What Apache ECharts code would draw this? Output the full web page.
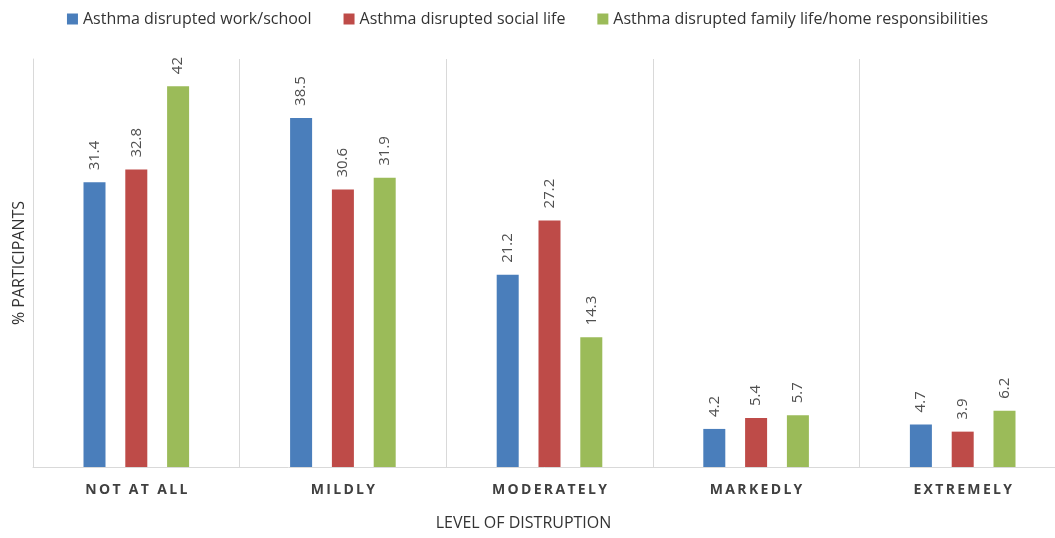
<!DOCTYPE html>
<html>
<head>
<meta charset="utf-8">
<script src="https://cdn.jsdelivr.net/npm/echarts@6/dist/echarts.min.js"></script>
<style>
  html, body { margin: 0; padding: 0; background: #fff; }
  #chart { width: 1055px; height: 538px; }
</style>
</head>
<body>
<div id="chart"></div>
<script>
  // level of disruption
  var categories = ['NOT AT ALL', 'MILDLY', 'MODERATELY', 'MARKEDLY', 'EXTREMELY']
  var seriesNames = [
    'Asthma disrupted work/school',
    'Asthma disrupted social life',
    'Asthma disrupted family life/home responsibilities'
  ]
  var workSchool = [31.4, 38.5, 21.2, 4.2, 4.7]
  var socialLife = [32.8, 30.6, 27.2, 5.4, 3.9]
  var familyLife = [42, 31.9, 14.3, 5.7, 6.2]
  var colors = ['#4A7EBB', '#BE4B48', '#9BBB59']

  var chart = echarts.init(document.getElementById('chart'))
  var font = "'Open Sans', 'Noto Sans', sans-serif"

  var seriesData = [workSchool, socialLife, familyLife]
  var series = []
  for (var i = 0; i < seriesData.length; i++) {
    series.push({
      name: seriesNames[i],
      type: 'bar',
      barWidth: 22,
      barGap: '90%',
      itemStyle: { color: colors[i] },
      label: {
        show: true,
        position: 'top',
        rotate: 90,
        align: 'left',
        verticalAlign: 'middle',
        distance: 12,
        color: '#505050',
        fontFamily: font,
        fontSize: 15
      },
      data: seriesData[i]
    })
  }

  chart.setOption({
    animation: false,
    textStyle: { fontFamily: font },
    legend: {
      top: 6,
      left: 'center',
      icon: 'rect',
      itemWidth: 11,
      itemHeight: 11,
      itemGap: 32,
      textStyle: { fontSize: 16, color: '#333', fontFamily: font },
      data: seriesNames
    },
    grid: {
      left: 33,
      top: 59,
      width: 1033,
      bottom: 71,
      outerBoundsMode: 'none'
    },
    xAxis: {
      type: 'category',
      data: categories,
      name: 'LEVEL OF DISTRUPTION',
      nameLocation: 'middle',
      nameGap: 48,
      nameTextStyle: { fontSize: 16, color: '#333', fontFamily: font, padding: [0, 52, 0, 0] },
      axisLine: { lineStyle: { color: '#D9D9D9' } },
      axisTick: { show: false },
      splitLine: { show: true, lineStyle: { color: '#D9D9D9' } },
      axisLabel: {
        margin: 16,
        fontSize: 14,
        fontWeight: 'bold',
        color: '#404040',
        formatter: function (v) { return v.split('').join('\u2009') }
      }
    },
    yAxis: {
      type: 'value',
      min: 0,
      max: 45,
      name: '% PARTICIPANTS',
      nameLocation: 'middle',
      nameGap: 6,
      nameTextStyle: { fontSize: 16, color: '#333', fontFamily: font },
      axisLine: { show: true, lineStyle: { color: '#D9D9D9' } },
      axisLabel: { show: false },
      axisTick: { show: false },
      splitLine: { show: false }
    },
    series: series
  })
</script>
</body>
</html>
